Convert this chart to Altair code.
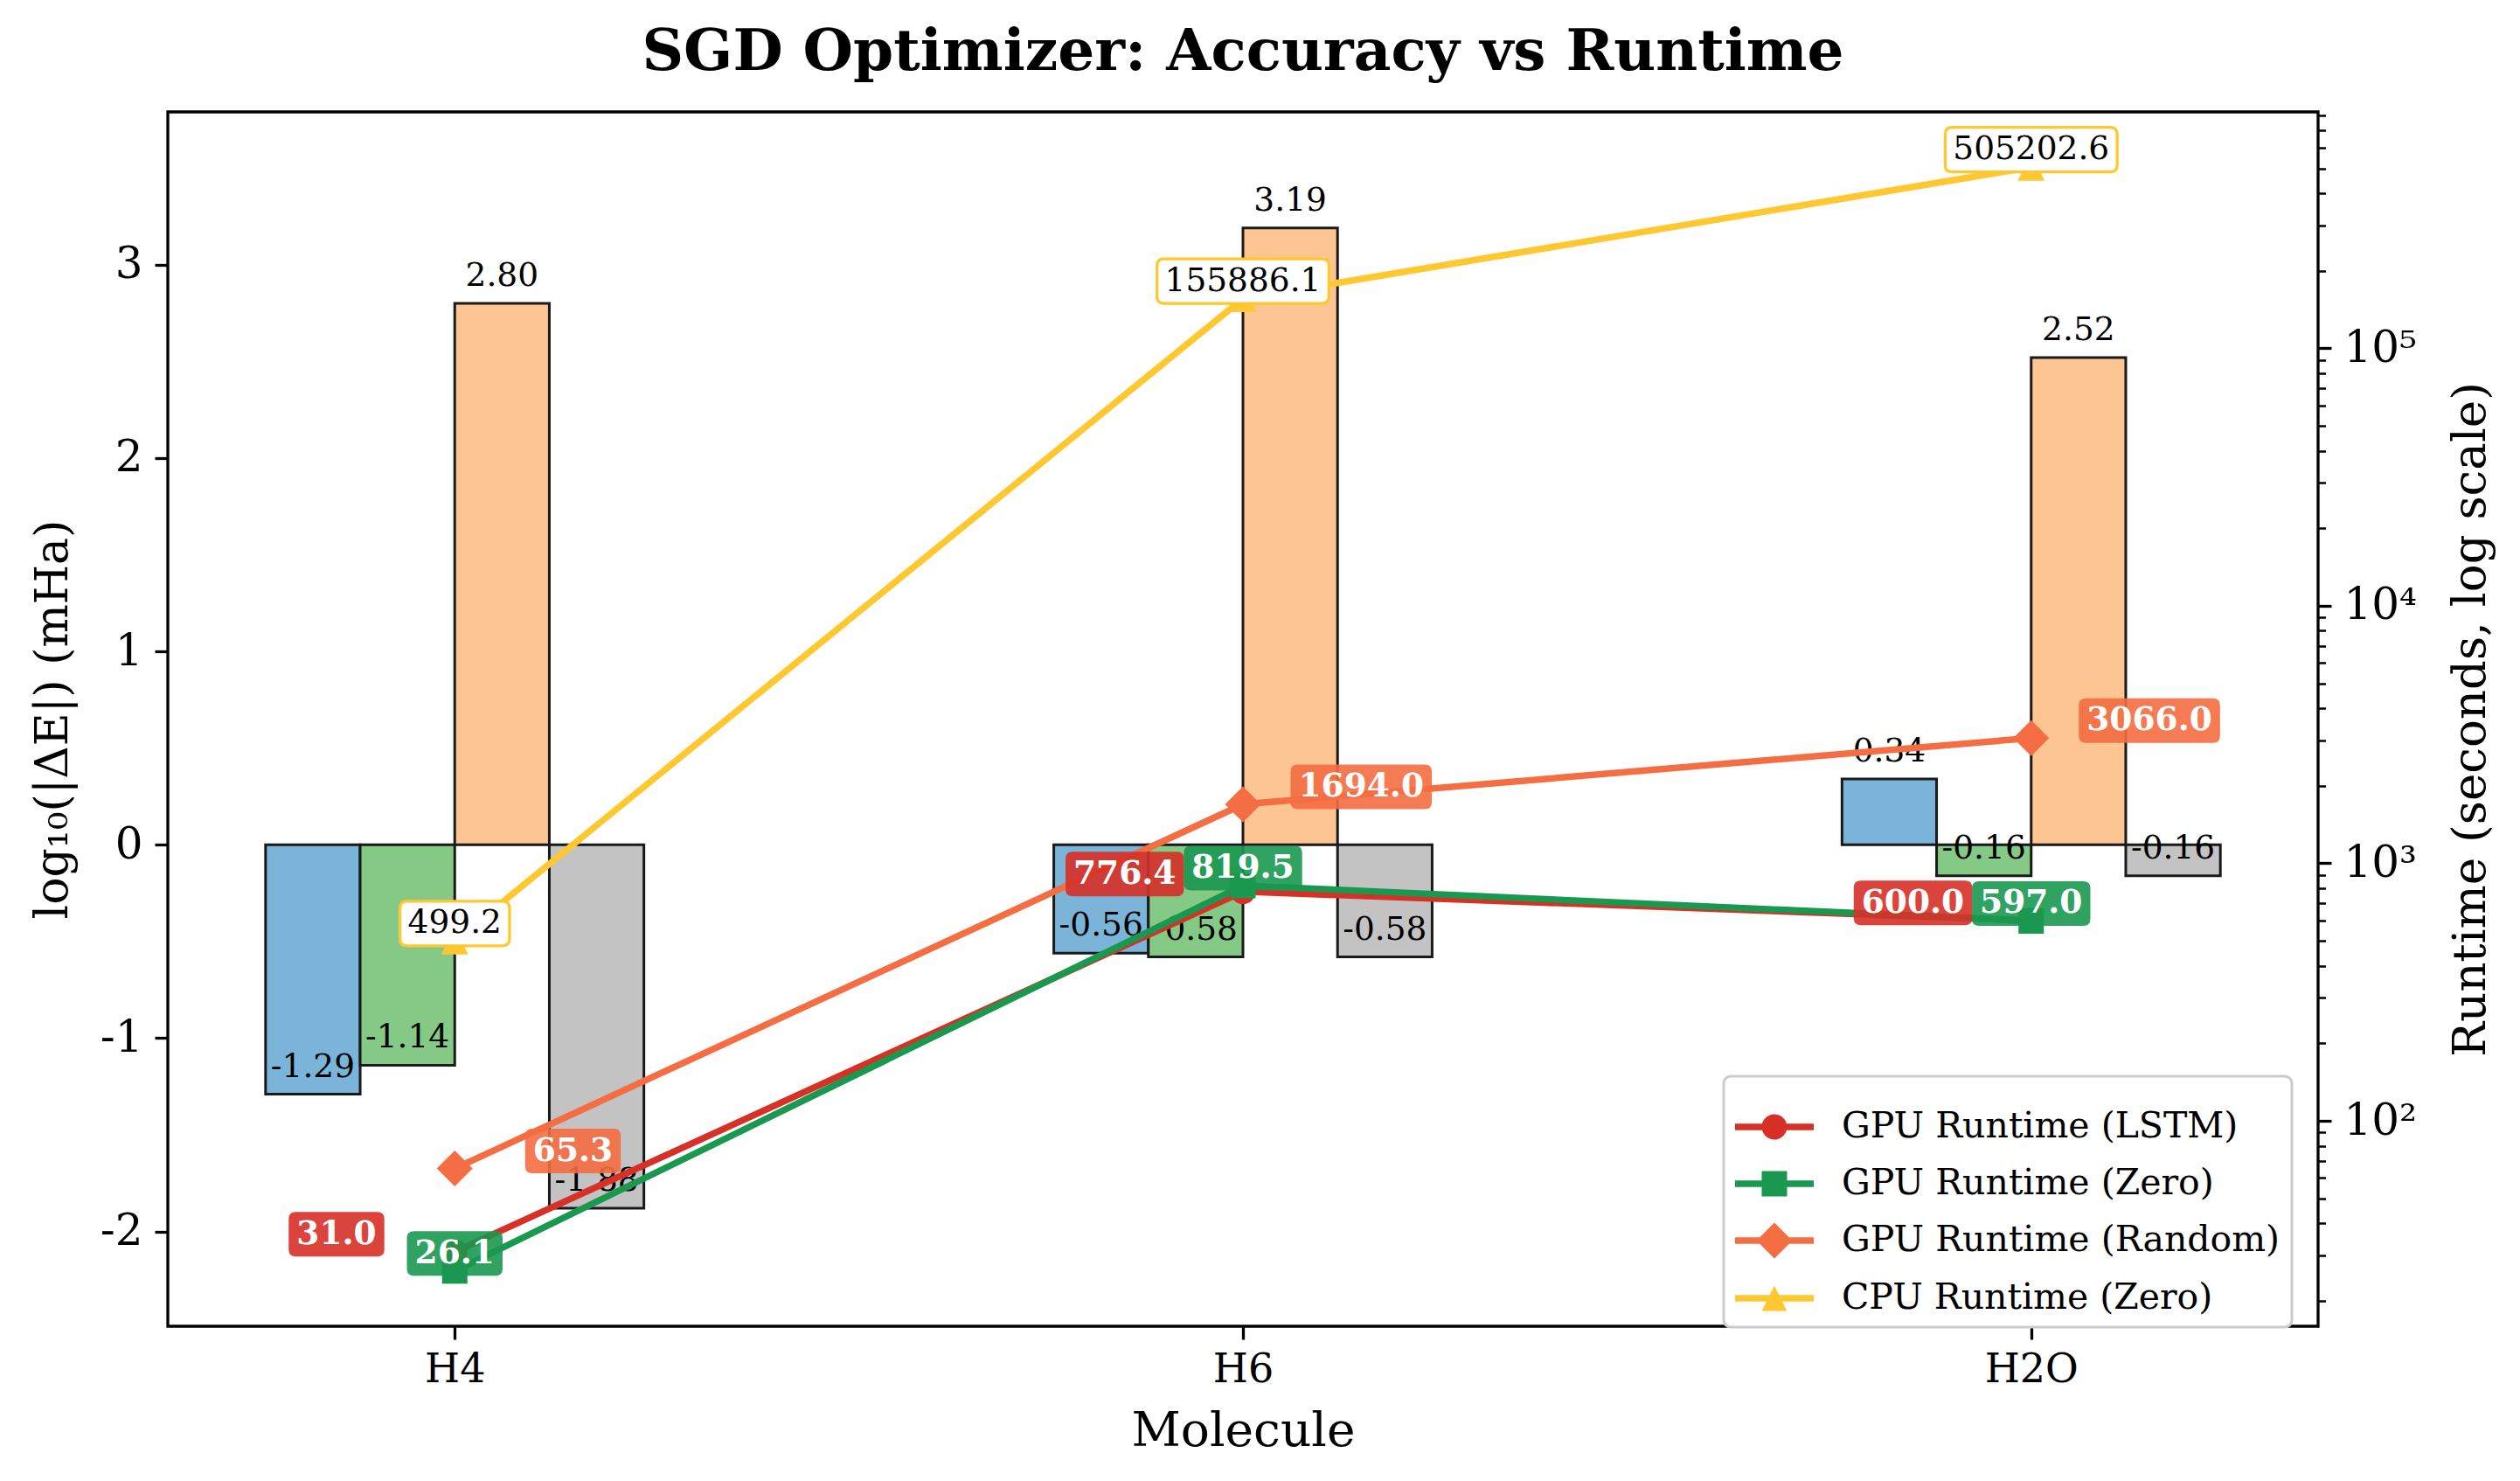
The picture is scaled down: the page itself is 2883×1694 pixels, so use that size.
import altair as alt
import pandas as pd

# ---------------- data ----------------
molecules = ["H4", "H6", "H2O"]

# log10(|dE|) in mHa (bars)
err_lstm = [-1.29, -0.56, 0.34]
err_zero = [-1.14, -0.58, -0.16]
err_random = [2.80, 3.19, 2.52]
err_cpu = [-1.88, -0.58, -0.16]

# runtimes in seconds (lines)
rt_lstm = [31.0, 776.4, 600.0]
rt_zero = [26.1, 819.5, 597.0]
rt_random = [65.3, 1694.0, 3066.0]
rt_cpu = [499.2, 155886.1, 505202.6]

series_names = ["GPU Runtime (LSTM)", "GPU Runtime (Zero)",
                "GPU Runtime (Random)", "CPU Runtime (Zero)"]

# ---------------- styles ----------------
FONT = "DejaVu Serif"
bar_fills = ["#7ab5d9", "#85c986", "#fcc592", "#c3c3c3"]
bar_width = 0.12
line_colors = ["#d73027", "#1a9850", "#f46d43", "#ffc830"]
label_dx = [-0.15, 0.0, 0.15, 0.0]
is_gpu = [True, True, True, False]
LINE_W = 7.5

marker_paths = ["M1,0 A1,1 0 1,1 -1,0 A1,1 0 1,1 1,0 Z",
                "M-1,-1 H1 V1 H-1 Z",
                "M0,-1 L1,0 L0,1 L-1,0 Z",
                "M0,-1 L1,1 L-1,1 Z"]
marker_sizes = [841, 841, 1681, 961]

# legend symbol: line + marker (unit coords, 90px wide symbol -> 45 px/unit)
LW = 90.0
u = LW / 2
lh = (LINE_W / 2) / u
r = 14.5 / u
d = 20.5 / u
line_rect = f"M-1,{-lh:.4f} H1 V{lh:.4f} H-1 Z "
legend_paths = [
    line_rect + f"M{r:.4f},0 A{r:.4f},{r:.4f} 0 1,1 {-r:.4f},0 A{r:.4f},{r:.4f} 0 1,1 {r:.4f},0 Z",
    line_rect + f"M{-r:.4f},{-r:.4f} H{r:.4f} V{r:.4f} H{-r:.4f} Z",
    line_rect + f"M0,{-d:.4f} L{d:.4f},0 L0,{d:.4f} L{-d:.4f},0 Z",
    line_rect + f"M0,{-r:.4f} L{r:.4f},{r:.4f} L{-r:.4f},{r:.4f} Z",
]

LABEL_FS = 37.5


def text_width(s, bold):
    w = 0.0
    for c in s:
        if c.isdigit():
            w += 0.696 if bold else 0.636
        else:
            w += 0.348 if bold else 0.318
    return w * LABEL_FS


def rrect(w, h, rad):
    x0, x1, y0, y1 = -w / 2, w / 2, -h / 2, h / 2
    return (f"M{x0 + rad:.1f},{y0:.1f} H{x1 - rad:.1f} Q{x1:.1f},{y0:.1f} {x1:.1f},{y0 + rad:.1f} "
            f"V{y1 - rad:.1f} Q{x1:.1f},{y1:.1f} {x1 - rad:.1f},{y1:.1f} H{x0 + rad:.1f} "
            f"Q{x0:.1f},{y1:.1f} {x0:.1f},{y1 - rad:.1f} V{y0 + rad:.1f} Q{x0:.1f},{y0:.1f} {x0 + rad:.1f},{y0:.1f} Z")


# ---------------- tables ----------------
bar_rows = []
for k, vals in enumerate([err_lstm, err_zero, err_random, err_cpu]):
    for i, v in enumerate(vals):
        c = i + (k - 1.5) * bar_width
        bar_rows.append({"idx": i, "x0": c - bar_width / 2, "x1": c + bar_width / 2, "xc": c,
                         "value": v, "label": f"{v:.2f}", "fill": bar_fills[k]})
bars_df = pd.DataFrame(bar_rows)

rt_rows = []
for k, vals in enumerate([rt_lstm, rt_zero, rt_random, rt_cpu]):
    for i, v in enumerate(vals):
        lab = f"{v:.1f}"
        w = text_width(lab, is_gpu[k]) + 18
        rt_rows.append({
            "series": series_names[k], "idx": i, "runtime": v, "label": lab,
            "xlab": i + label_dx[k], "gpu": is_gpu[k],
            "mpath": marker_paths[k], "msize": marker_sizes[k],
            "bpath": rrect(w, 51, 8),
            "bfill": line_colors[k] if is_gpu[k] else "#ffffff",
            "bstroke": "transparent" if is_gpu[k] else line_colors[k],
            "bop": 0.9 if is_gpu[k] else 1.0,
        })
rt_df = pd.DataFrame(rt_rows)

# ---------------- scales / axes ----------------
xscale = alt.Scale(domain=[-0.364, 2.364], nice=False, zero=False)
x_label_expr = " : ".join(f"datum.value == {i} ? '{m}'" for i, m in enumerate(molecules)) + " : ''"
xaxis = alt.Axis(values=[0, 1, 2], labelExpr=x_label_expr, title="Molecule", grid=False,
                 domain=False, tickSize=15, tickWidth=3.3, tickColor="black",
                 labelFont=FONT, labelFontSize=46, labelPadding=12, labelColor="black",
                 titleFont=FONT, titleFontSize=55, titleFontWeight="normal", titleColor="black",
                 titleY=136, titleBaseline="alphabetic")

yl_scale = alt.Scale(domain=[-2.49, 3.79], nice=False, zero=False)
yl_axis = alt.Axis(values=[-2, -1, 0, 1, 2, 3],
                   labelExpr="datum.value < 0 ? '-' + format(-datum.value, 'd') : format(datum.value, 'd')",
                   title="log\u2081\u2080(|\u0394E|) (mHa)", grid=False, domain=False,
                   tickSize=15, tickWidth=3.3, tickColor="black",
                   labelFont=FONT, labelFontSize=50, labelPadding=14, labelColor="black",
                   titleFont=FONT, titleFontSize=52, titleFontWeight="normal", titleColor="black",
                   titleX=-132, titleY=694.5, titleAngle=270, titleBaseline="middle")

minor_vals = []
for dec in [10, 100, 1000, 10000, 100000]:
    for m in range(1, 10):
        v = m * dec
        if 15.9 <= v <= 827000:
            minor_vals.append(v)
major_test = "indexof([100, 1000, 10000, 100000], datum.value) >= 0"
yr_scale = alt.Scale(type="log", domain=[15.93, 827900], nice=False)
yr_axis = alt.Axis(orient="right", values=minor_vals,
                   labelExpr=("datum.value == 100 ? '10\u00b2' : datum.value == 1000 ? '10\u00b3' : "
                              "datum.value == 10000 ? '10\u2074' : datum.value == 100000 ? '10\u2075' : ''"),
                   labelOverlap=False, grid=False, domain=False,
                   tickSize={"condition": {"test": major_test, "value": 15}, "value": 8.5},
                   tickWidth={"condition": {"test": major_test, "value": 3.3}, "value": 2.5},
                   tickColor="black",
                   labelFont=FONT, labelFontSize=50, labelPadding=14, labelColor="black",
                   title="Runtime (seconds, log scale)",
                   titleFont=FONT, titleFontSize=53, titleFontWeight="normal", titleColor="black",
                   titleX=174, titleY=694.5, titleAngle=270, titleBaseline="middle")

cscale = alt.Scale(domain=series_names, range=line_colors)

legend = alt.Legend(orient="none", legendX=1780, legendY=1103, title=None,
                    labelFont=FONT, labelFontSize=41, labelColor="black", labelLimit=0,
                    symbolSize=LW * LW, symbolStrokeWidth=0, symbolOpacity=1,
                    padding=13, rowPadding=-9, labelOffset=32,
                    strokeColor="#cccccc", cornerRadius=8, fillColor="white")

# ---------------- left layer: bars ----------------
X_bar = alt.X("x0:Q", scale=xscale, axis=xaxis)
Y_left = alt.Y("value:Q", scale=yl_scale, axis=yl_axis)

bars = alt.Chart(bars_df).mark_rect(stroke="#1a1a1a", strokeWidth=3).encode(
    x=X_bar, x2="x1:Q", y=Y_left, y2=alt.datum(0),
    fill=alt.Fill("fill:N", scale=None))

bar_labels = alt.Chart(bars_df).mark_text(
    font=FONT, fontSize=LABEL_FS, dy=-20, baseline="alphabetic", align="center", color="black"
).encode(x=alt.X("xc:Q", scale=xscale, axis=xaxis), y=Y_left, text="label:N")

left = alt.layer(bars, bar_labels)

# ---------------- right layer: runtimes ----------------
Y_right = alt.Y("runtime:Q", scale=yr_scale, axis=yr_axis)
X_pt = alt.X("idx:Q", scale=xscale, axis=xaxis)
X_lab = alt.X("xlab:Q", scale=xscale, axis=xaxis)

# legend-only layer (first, so its legend settings win): its rows are filtered out,
# the legend comes from the scales' domains
legend_layer = alt.Chart(rt_df).transform_filter("datum.idx < 0").mark_point(filled=True).encode(
    x=X_pt, y=Y_right,
    color=alt.Color("series:N", scale=cscale, legend=legend),
    shape=alt.Shape("series:N", scale=alt.Scale(domain=series_names, range=legend_paths), legend=legend))

lines = alt.Chart(rt_df).mark_line(strokeWidth=LINE_W).encode(
    x=X_pt, y=Y_right, color=alt.Color("series:N", scale=cscale, legend=None))

markers = alt.Chart(rt_df).mark_point(filled=True, opacity=1, strokeWidth=0).encode(
    x=X_pt, y=Y_right, color=alt.Color("series:N", scale=cscale, legend=None),
    shape=alt.Shape("mpath:N", scale=None), size=alt.Size("msize:Q", scale=None))

boxes = alt.Chart(rt_df).mark_point(filled=True, size=4, yOffset=-20, strokeWidth=3.3).encode(
    x=X_lab, y=Y_right,
    shape=alt.Shape("bpath:N", scale=None),
    fill=alt.Fill("bfill:N", scale=None),
    stroke=alt.Stroke("bstroke:N", scale=None),
    opacity=alt.Opacity("bop:Q", scale=None))

texts_gpu = alt.Chart(rt_df).transform_filter("datum.gpu == true").mark_text(
    font=FONT, fontSize=LABEL_FS, fontWeight="bold", color="white", dy=-20,
    baseline="middle", align="center"
).encode(x=X_lab, y=Y_right, text="label:N")

texts_cpu = alt.Chart(rt_df).transform_filter("datum.gpu == false").mark_text(
    font=FONT, fontSize=LABEL_FS, fontWeight="normal", color="black", dy=-20,
    baseline="middle", align="center"
).encode(x=X_lab, y=Y_right, text="label:N")

right = alt.layer(legend_layer, lines, markers, boxes, texts_gpu, texts_cpu)

chart = alt.layer(left, right).resolve_scale(y="independent").properties(
    width=2460, height=1389,
    title=alt.TitleParams("SGD Optimizer: Accuracy vs Runtime", font=FONT, fontSize=66,
                          fontWeight="bold", anchor="middle", offset=13, color="black"),
    autosize=alt.AutoSizeParams(type="none"),
    padding={"left": 184, "top": 120, "right": 215, "bottom": 160},
).configure(background="white").configure_view(
    stroke="black", strokeWidth=3.3
).configure_legend(strokeWidth=3)

chart.save("out.html", embed_options={"renderer": "svg", "actions": False})
